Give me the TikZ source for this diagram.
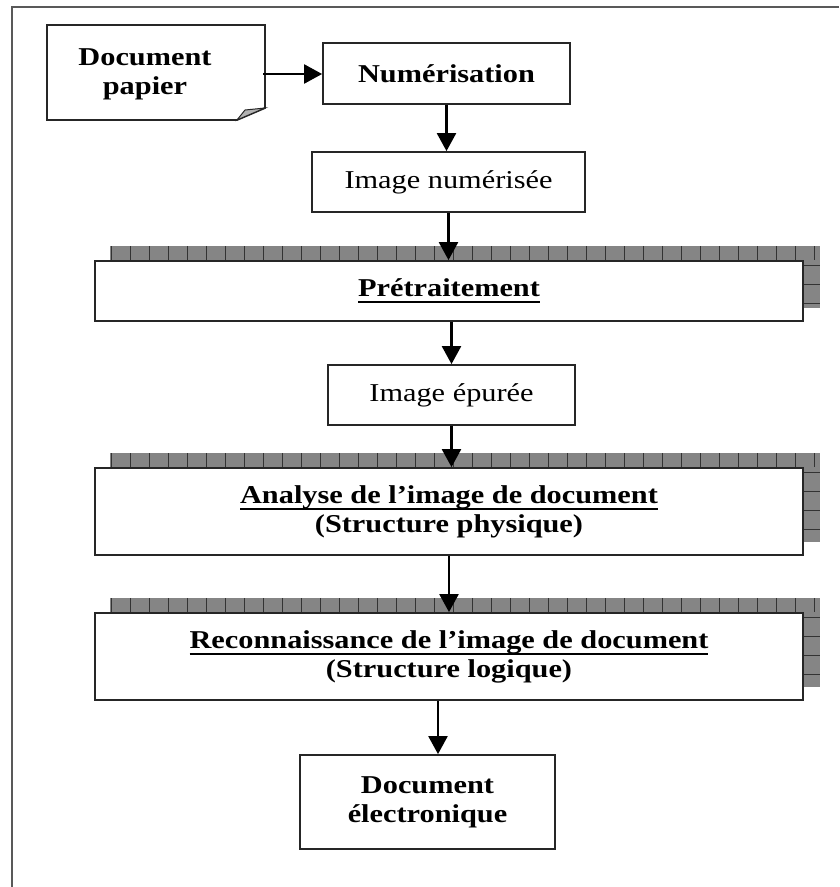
\documentclass[tikz,border=0pt]{standalone}
\usepackage{fontspec}
\setmainfont{Liberation Serif}[FakeStretch=1.18]
\usetikzlibrary{arrows.meta,calc,backgrounds}

\newsavebox{\soulbox}
\newcommand{\souligne}[1]{\sbox{\soulbox}{#1}\rlap{\rule[-7pt]{\wd\soulbox}{2.4pt}}\usebox{\soulbox}}
\newcommand{\boxfont}{\fontsize{25.7}{29}\selectfont}

\tikzset{
  box/.style={draw=black!85, line width=1.8pt, fill=white, inner sep=0pt,
              align=center, font=\boxfont},
  boldbox/.style={box, font=\boxfont\bfseries},
  flow/.style={->, line width=2.4pt},
  shadowfill/.style={fill=black!48},
  shadowline/.style={draw=black!80, line width=1.2pt},
}

\begin{document}
\begin{tikzpicture}[x=1pt, y=-1pt, >={Triangle[length=18pt,width=19pt]}]
  \useasboundingbox (0,0) rectangle (839,887);
  % outer frame (left and top only)
  \draw[black!65, line width=2.5pt] (12,887) -- (12,7) -- (839,7);

  % paper document with folded corner
  \draw[black!85, line width=1.8pt, fill=white]
    (47,25) -- (265,25) -- (265,108) -- (237,120) -- (47,120) -- cycle;
  \draw[black!85, line width=1pt, fill=black!30] (237,120) -- (245,110) -- (265,108) -- cycle;
  \node[align=center, font=\boxfont\bfseries, minimum width=236, minimum height=95,
        inner sep=0pt] (papier) at (145,74) {Document\\papier};

  % processing chain
  \node[boldbox, minimum width=247, minimum height=61] (num) at (446.5,73.5) {Numérisation};
  \node[box, minimum width=273, minimum height=60] (imgnum) at (448.5,182) {Image numérisée};
  \node[boldbox, minimum width=708, minimum height=60] (pretrait) at (449,291)
    {\souligne{Prétraitement}};
  \node[box, minimum width=247, minimum height=60] (imgep) at (451.5,395) {Image épurée};
  \node[boldbox, minimum width=708, minimum height=87] (analyse) at (449,511.5)
    {\souligne{Analyse de l’image de document}\\(Structure physique)};
  \node[boldbox, minimum width=708, minimum height=87] (recon) at (449,656.5)
    {\souligne{Reconnaissance de l’image de document}\\(Structure logique)};
  \node[boldbox, minimum width=255, minimum height=94] (elec) at (427.5,802)
    {Document\\électronique};

  % brick shadows behind the three main steps
  \begin{scope}[on background layer]
    \foreach \n in {pretrait, analyse, recon} {
      \begin{scope}
        \clip ([shift={(16,-14)}]\n.south west) rectangle ([shift={(16,-14)}]\n.north east);
        \fill[shadowfill] ([shift={(16,-14)}]\n.south west) rectangle ([shift={(16,-14)}]\n.north east);
        \foreach \i in {1,...,38}
          \draw[shadowline] ($(\n.north west)+(19*\i-2,-14)$) -- ++(0,14);
        \foreach \j in {1,...,4}
          \draw[shadowline] ($(\n.north east)+(0,19*\j-14)$) -- ++(16,0);
      \end{scope}
    }
  \end{scope}

  % arrows
  \draw[flow] (papier.east) -- (papier.east -| num.west);
  \draw[flow] (num.south) -- (num.south |- imgnum.north);
  \draw[flow] (imgnum.south) -- (imgnum.south |- pretrait.north);
  \draw[flow] (imgep.north |- pretrait.south) -- (imgep.north);
  \draw[flow] (imgep.south) -- (imgep.south |- analyse.north);
  \draw[flow] (analyse.south) -- (analyse.south |- recon.north);
  \draw[flow] ([xshift=-11pt]recon.south) -- ([xshift=-11pt]recon.south |- elec.north);
\end{tikzpicture}
\end{document}
